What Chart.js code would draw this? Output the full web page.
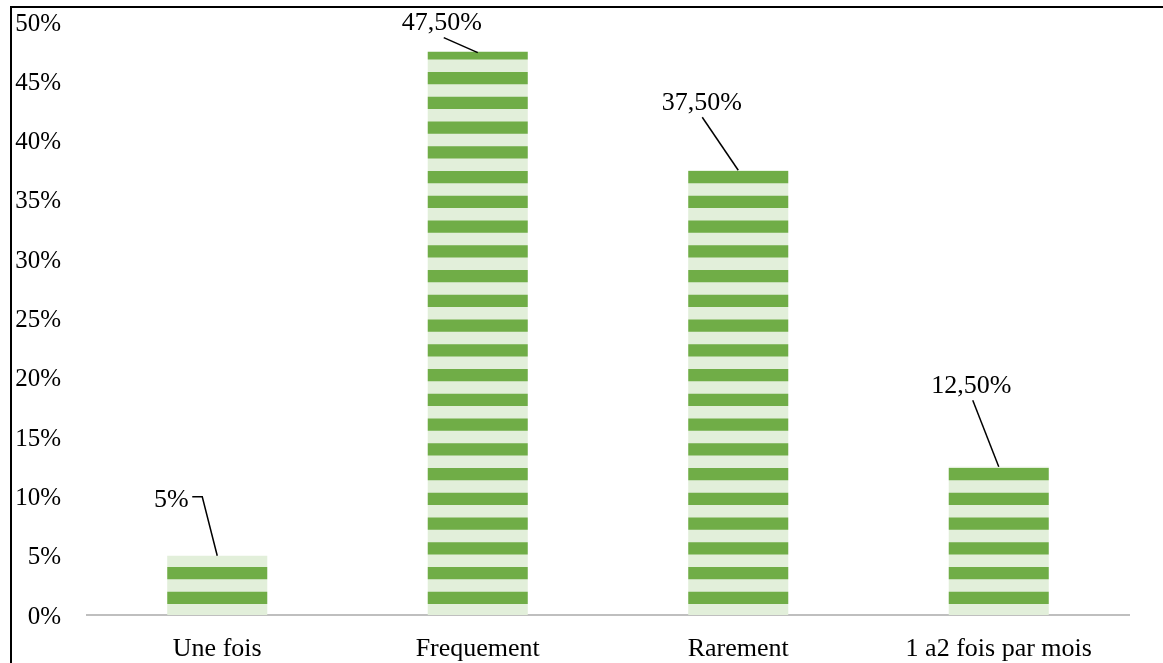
<!DOCTYPE html>
<html>
<head>
<meta charset="utf-8">
<script src="https://cdn.jsdelivr.net/npm/chart.js@4.4.1/dist/chart.umd.min.js"></script>
<style>
html,body{margin:0;padding:0;background:#fff;}
canvas{display:block;}
</style>
</head>
<body>
<canvas id="c" width="1163" height="663"></canvas>
<script>
const categories = ["Une fois", "Frequement", "Rarement", "1 a2 fois par mois"];
const values = [5, 47.5, 37.5, 12.5];
const valueLabels = ["5%", "47,50%", "37,50%", "12,50%"];
const yTicks = [0, 5, 10, 15, 20, 25, 30, 35, 40, 45, 50];

const GREEN = "#70AD47";
const LIGHT = "#E2EFDA";
const FONT = "'Liberation Serif', 'Times New Roman', serif";

// label placement relative to bar top (style, not data)
const labelStyle = [
  {tx: -46, ty: -56, line: [[-25, -59], [-15, -59], [0, 0]]},
  {tx: -36, ty: -28, line: [[-34, -14], [0, 1]]},
  {tx: -36.5, ty: -67, line: [[-36, -53], [0, 0]]},
  {tx: -27.5, ty: -80.5, line: [[-26, -66.5], [0, 0]]}
];

let patternCache = null, patternY0 = null;
function makePattern(chart) {
  const y0 = chart.scales.y.getPixelForValue(0);
  if (patternCache && patternY0 === y0) return patternCache;
  const P = 24.75, H = 99, G = 12.25;
  const c = document.createElement('canvas');
  c.width = 10; c.height = H;
  const g = c.getContext('2d');
  g.fillStyle = LIGHT; g.fillRect(0, 0, 10, H);
  g.fillStyle = GREEN;
  const start = (((y0 + 1.5 - P) % H) + H) % H;
  for (let k = -6; k <= 6; k++) g.fillRect(0, start + k * P, 10, G);
  patternCache = chart.ctx.createPattern(c, 'repeat');
  patternY0 = y0;
  return patternCache;
}

const framePlugin = {
  id: 'frame',
  afterDraw(chart) {
    const ctx = chart.ctx;
    ctx.save();
    ctx.fillStyle = '#000';
    ctx.fillRect(10, 6, 2, 663);
    ctx.fillRect(10, 6, 1153, 2);
    ctx.restore();
  }
};

const labelPlugin = {
  id: 'leaderLabels',
  afterDatasetsDraw(chart) {
    const ctx = chart.ctx;
    const meta = chart.getDatasetMeta(0);
    ctx.save();
    meta.data.forEach((bar, i) => {
      const s = labelStyle[i];
      const x = bar.x, y = bar.y;
      ctx.strokeStyle = '#000';
      ctx.lineWidth = 1.5;
      ctx.beginPath();
      s.line.forEach((p, j) => {
        if (j === 0) ctx.moveTo(x + p[0], y + p[1]);
        else ctx.lineTo(x + p[0], y + p[1]);
      });
      ctx.stroke();
      ctx.fillStyle = '#000';
      ctx.font = "26px " + FONT;
      ctx.textAlign = 'center';
      ctx.textBaseline = 'middle';
      ctx.fillText(valueLabels[i], x + s.tx, y + s.ty);
    });
    ctx.restore();
  }
};

Chart.defaults.font.family = FONT;
Chart.defaults.font.size = 26;
Chart.defaults.color = '#000';

new Chart(document.getElementById('c'), {
  type: 'bar',
  data: {
    labels: categories,
    datasets: [{
      data: values,
      backgroundColor: (ctx) => ctx.chart.scales && ctx.chart.scales.y ? makePattern(ctx.chart) : GREEN,
      borderWidth: 0,
      categoryPercentage: 1,
      barPercentage: 0.384
    }]
  },
  options: {
    responsive: false,
    animation: false,
    devicePixelRatio: 1,
    layout: {padding: {top: 22, right: 34, left: 0, bottom: 0}},
    plugins: {legend: {display: false}, tooltip: {enabled: false}},
    scales: {
      x: {
        afterFit(scale) { scale.height = 48; scale.paddingLeft = 0; scale.paddingRight = 0; },
        grid: {display: false, drawTicks: false},
        border: {display: true, color: '#BFBFBF', width: 2},
        ticks: {padding: 19, font: {size: 26}, color: '#000', maxRotation: 0, autoSkip: false}
      },
      y: {
        min: 0, max: 50,
        afterBuildTicks(scale) { scale.ticks = yTicks.map(v => ({value: v})); },
        afterFit(scale) { scale.width = 87; scale.paddingTop = 0; scale.paddingBottom = 0; },
        grid: {display: false, drawTicks: false},
        border: {display: false},
        ticks: {padding: 26, labelOffset: 2, font: {size: 25}, color: '#000', callback: v => v + '%'}
      }
    }
  },
  plugins: [framePlugin, labelPlugin]
});
</script>
</body>
</html>
